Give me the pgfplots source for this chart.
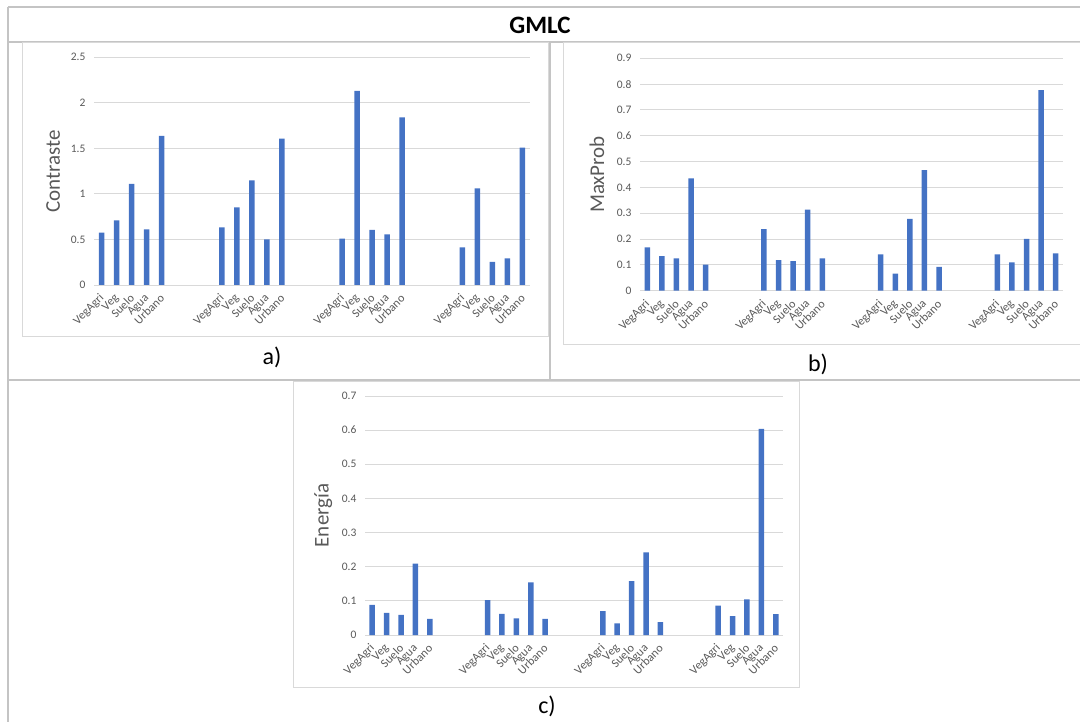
\documentclass[border=0pt]{standalone}
\usepackage{pgfplots}
\usepackage{pgfplotstable}
\pgfplotsset{compat=1.18}
\usepackage{fontspec}
\setmainfont{Carlito}
\definecolor{barblue}{HTML}{4472C4}
\definecolor{txtgrey}{HTML}{595959}
\definecolor{gridgrey}{HTML}{D9D9D9}
\definecolor{tablegrey}{HTML}{C4C4C4}

\pgfplotstableread{
x  contraste maxprob energia
0  0.575 0.168 0.088
1  0.710 0.134 0.065
2  1.109 0.125 0.059
3  0.611 0.435 0.209
4  1.636 0.101 0.047
8  0.633 0.238 0.102
9  0.853 0.118 0.062
10 1.149 0.115 0.049
11 0.501 0.314 0.154
12 1.607 0.125 0.047
16 0.509 0.141 0.070
17 2.130 0.066 0.034
18 0.604 0.278 0.158
19 0.556 0.467 0.242
20 1.841 0.092 0.038
24 0.414 0.141 0.086
25 1.061 0.110 0.055
26 0.253 0.201 0.104
27 0.293 0.777 0.604
28 1.508 0.145 0.061
}\gmlcdata

\pgfplotsset{
  gmlc/.style={
    scale only axis,
    anchor=south west,
    ybar, bar width=5.5pt,
    xmin=-0.5, xmax=28.5,
    ymin=0,
    xtick={0,1,2,3,4,8,9,10,11,12,16,17,18,19,20,24,25,26,27,28},
    xticklabels={VegAgri,Veg,Suelo,Agua,Urbano,VegAgri,Veg,Suelo,Agua,Urbano,VegAgri,Veg,Suelo,Agua,Urbano,VegAgri,Veg,Suelo,Agua,Urbano},
    major tick length=0pt,
    axis line style={draw=none},
    ymajorgrids, grid style={gridgrey, line width=0.9pt},
    tick label style={text=txtgrey},
    yticklabel style={font=\fontsize{11.5}{12}\selectfont},
    /pgf/number format/assume math mode=true,
    yticklabel style={xshift=-5pt, /pgf/number format/fixed},
    xticklabel style={font=\fontsize{12}{13}\selectfont, xshift=3pt, yshift=-9pt, rotate=45, anchor=east},
    ylabel style={font=\fontsize{21}{24}\selectfont, text=txtgrey, anchor=center},
  }
}

\begin{document}
\begin{tikzpicture}[x=1pt,y=1pt]
\useasboundingbox (0,0) rectangle (1080,721);
% table borders
\begin{scope}[tablegrey, line width=1.5pt]
\draw (8,714) -- (1082,714);
\draw (8,714) -- (8,-2);
\draw (8,679) -- (1082,679);
\draw (550,679) -- (550,341);
\draw (8,341) -- (1082,341);
\end{scope}
% chart frames
\begin{scope}[gridgrey, line width=1pt]
\draw (22,384) rectangle (548,678);
\draw (563,376) rectangle (1090,678);
\draw (293,34) rectangle (799,339);
\end{scope}
\node[font=\bfseries\fontsize{25}{28}\selectfont] at (540,696) {GMLC};
\node[font=\fontsize{24}{28}\selectfont] at (272,364) {a)};
\node[font=\fontsize{24}{28}\selectfont] at (818,357) {b)};
\node[font=\fontsize{24}{28}\selectfont] at (547,15) {c)};

\begin{axis}[gmlc, at={(94pt,436pt)}, width=436pt, height=227.7pt,
  ymax=2.5, ytick={0,0.5,1,1.5,2,2.5},
  ylabel={Contraste}, ylabel style={at={(axis description cs:-0.094,0.5)}}]
\addplot[fill=barblue, draw=none] table[x=x, y=contraste] {\gmlcdata};
\end{axis}

\begin{axis}[gmlc, at={(640pt,430.3pt)}, width=423pt, height=232.4pt,
  ymax=0.9, ytick={0,0.1,0.2,0.3,0.4,0.5,0.6,0.7,0.8,0.9},
  ylabel={MaxProb}, ylabel style={at={(axis description cs:-0.102,0.5)}}]
\addplot[fill=barblue, draw=none] table[x=x, y=maxprob] {\gmlcdata};
\end{axis}

\begin{axis}[gmlc, at={(365pt,86pt)}, width=418pt, height=239pt,
  ymax=0.7, ytick={0,0.1,0.2,0.3,0.4,0.5,0.6,0.7},
  ylabel={Energía}, ylabel style={at={(axis description cs:-0.100,0.5)}}]
\addplot[fill=barblue, draw=none] table[x=x, y=energia] {\gmlcdata};
\end{axis}
\end{tikzpicture}
\end{document}
